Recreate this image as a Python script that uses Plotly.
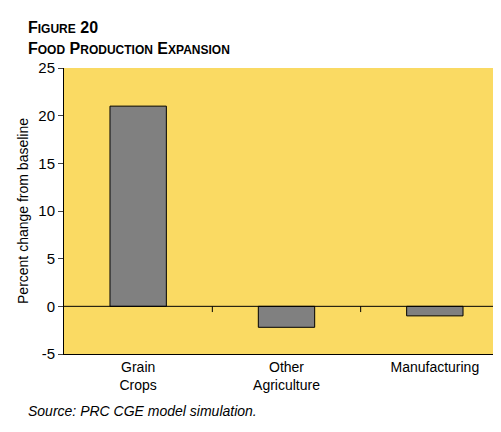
import plotly.graph_objects as go

categories = ["Grain<br>Crops", "Other<br>Agriculture", "Manufacturing"]
values = [21.0, -2.2, -1.0]
yticks = [-5, 0, 5, 10, 15, 20, 25]
yticklabels = ["-5", "0", "5", "10", "15", "20", "25"]

fig = go.Figure(go.Bar(x=list(range(3)), y=values, width=0.38,
                       marker=dict(color="#808080", line=dict(color="#000", width=1))))
fnt = "Liberation Sans, Arial, sans-serif"
for b in [0.5, 1.5]:
    fig.add_shape(type="line", x0=b, x1=b, y0=0, y1=-0.6, xref="x", yref="y",
                  line=dict(color="#000", width=1))
fig.add_hline(y=0, line=dict(color="#000", width=1))
fig.update_layout(
    width=501, height=432, margin=dict(l=56, r=0, t=60, b=86),
    paper_bgcolor="white", plot_bgcolor="#FADA63", showlegend=False,
    font=dict(family=fnt, color="#000", size=14),
    xaxis=dict(range=[-0.5, 2.5], tickvals=list(range(3)), ticktext=categories,
               showgrid=False, showline=True, linecolor="#000", ticks="", zeroline=False,
               tickfont=dict(size=14)),
    yaxis=dict(range=[-5, 25], tickvals=yticks, ticktext=yticklabels, showgrid=False, showline=True,
               linecolor="#000", ticks="outside", ticklen=5, zeroline=False,
               title=dict(text="Percent change from baseline", font=dict(size=14), standoff=6),
               tickfont=dict(size=15)),
)
fig.add_annotation(xref="paper", yref="paper", x=-0.085, y=1.0, yshift=9, xanchor="left", yanchor="bottom",
                   showarrow=False, align="left",
                   text="<b>F<span style='font-size:12px'>IGURE</span> 20<br>F<span style='font-size:12px'>OOD</span> P<span style='font-size:12px'>RODUCTION</span> E<span style='font-size:12px'>XPANSION</span></b>",
                   font=dict(size=16))
fig.add_annotation(xref="paper", yref="paper", x=-0.085, y=-0.165, xanchor="left", yanchor="top",
                   showarrow=False, text="<i>Source: PRC CGE model simulation.</i>", font=dict(size=14))
fig.write_html("out.html")
